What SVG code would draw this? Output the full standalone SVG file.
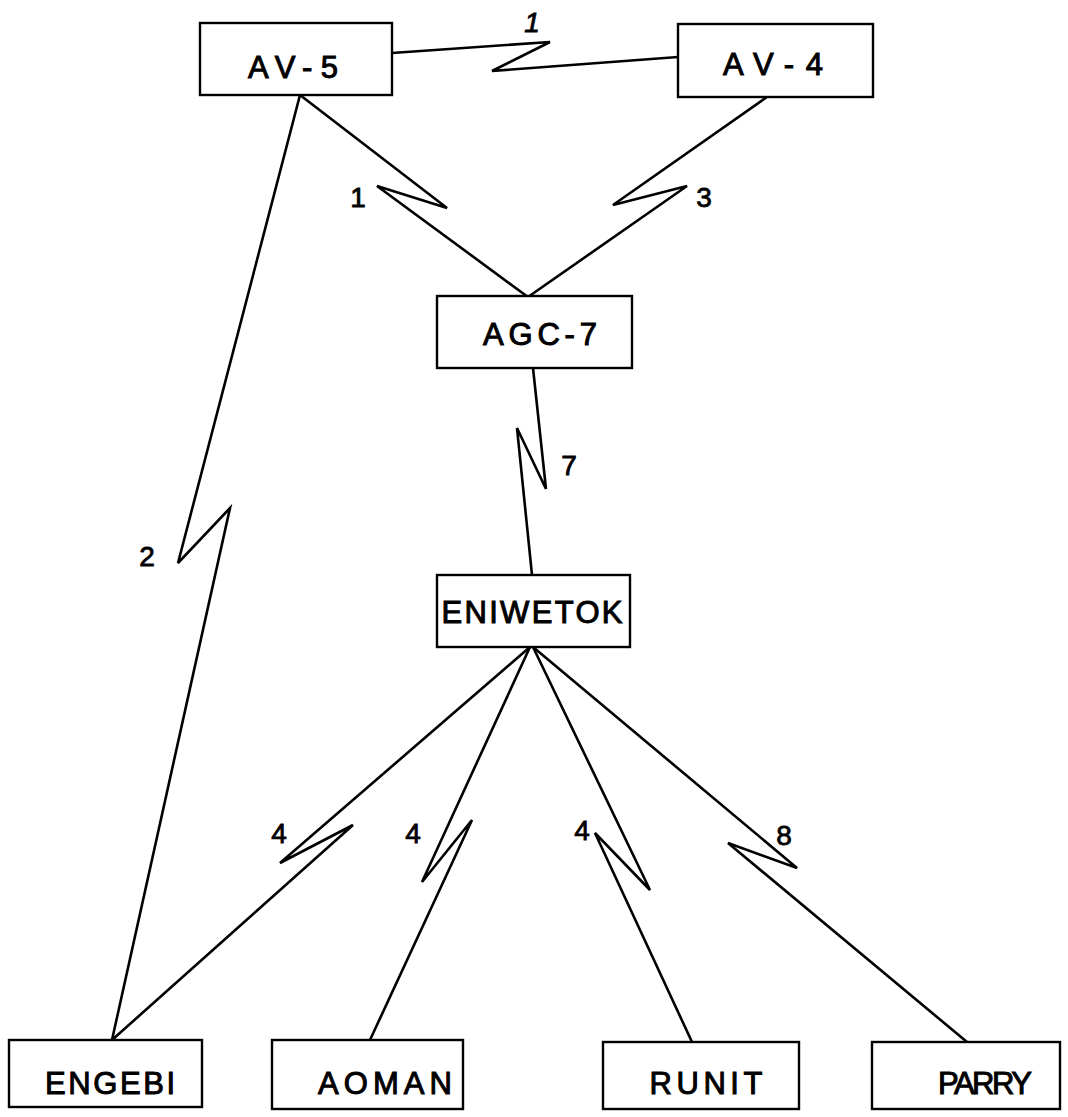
<svg xmlns="http://www.w3.org/2000/svg" width="1068" height="1117" viewBox="0 0 1068 1117">
<style>
.box{fill:#fff;stroke:#000;stroke-width:2.4}
.lbl{font-family:"Liberation Sans",Arial,sans-serif;font-size:31px;fill:#000;stroke:#000;stroke-width:1;text-anchor:middle}
.link{fill:none;stroke:#000;stroke-width:2.6;stroke-linejoin:miter;stroke-linecap:round}
.num{font-family:"Liberation Sans",Arial,sans-serif;font-size:28px;fill:#000;stroke:#000;stroke-width:0.8;text-anchor:middle}
</style>
<rect width="1068" height="1117" fill="#fff"/>
<g id="connectors">
<path class="link" d="M392 53 L550 42 L492 71 L678 57"/>
<path class="link" d="M300 95 L447 208 L377 186 L528 297"/>
<path class="link" d="M767 97 L613 205 L687 186 L528 297"/>
<path class="link" d="M300 95 L178 563 L230 508 L112 1040"/>
<path class="link" d="M533 368 L546 489 L517 428 L532 575"/>
<path class="link" d="M530 647 L280 863 L353 825 L112 1040"/>
<path class="link" d="M530 647 L422 882 L472 820 L370 1040"/>
<path class="link" d="M533 647 L650 890 L595 833 L692 1042"/>
<path class="link" d="M533 647 L797 868 L728 843 L967 1042"/>
<text class="num" x="532" y="32" font-style="italic" font-size="26">1</text>
<text class="num" x="358" y="207" font-size="28">1</text>
<text class="num" x="704" y="207" font-size="33">3</text>
<text class="num" x="569" y="475">7</text>
<text class="num" x="147" y="566" font-size="36">2</text>
<text class="num" x="279" y="843" font-size="29">4</text>
<text class="num" x="413" y="843" font-size="29">4</text>
<text class="num" x="582" y="840" font-size="29">4</text>
<text class="num" x="784" y="845" font-size="29">8</text>
</g>
<g id="node-av5"><rect class="box" x="200" y="23" width="192" height="72"/><text class="lbl" x="293" y="78" font-size="36" textLength="90" lengthAdjust="spacing">AV-5</text></g>
<g id="node-av4"><rect class="box" x="678" y="24" width="195" height="73"/><text class="lbl" x="773" y="75" font-size="37" textLength="100" lengthAdjust="spacing">AV-4</text></g>
<g id="node-agc7"><rect class="box" x="437" y="296" width="195" height="72"/><text class="lbl" x="540" y="345" font-size="35" textLength="114" lengthAdjust="spacing">AGC-7</text></g>
<g id="node-eniwetok"><rect class="box" x="437" y="575" width="193" height="72"/><text class="lbl" x="532" y="623" font-size="32" textLength="181" lengthAdjust="spacing">ENIWETOK</text></g>
<g id="node-engebi"><rect class="box" x="9" y="1040" width="193" height="67"/><text class="lbl" x="110" y="1094" font-size="30" textLength="130" lengthAdjust="spacing">ENGEBI</text></g>
<g id="node-aoman"><rect class="box" x="272" y="1040" width="191" height="69"/><text class="lbl" x="385" y="1094" font-size="30" textLength="134" lengthAdjust="spacing">AOMAN</text></g>
<g id="node-runit"><rect class="box" x="603" y="1042" width="196" height="67"/><text class="lbl" x="706" y="1094" font-size="30" textLength="113" lengthAdjust="spacing">RUNIT</text></g>
<g id="node-parry"><rect class="box" x="872" y="1042" width="188" height="67"/><text class="lbl" x="985" y="1094" font-size="27" textLength="94" lengthAdjust="spacing">PARRY</text></g>
</svg>
